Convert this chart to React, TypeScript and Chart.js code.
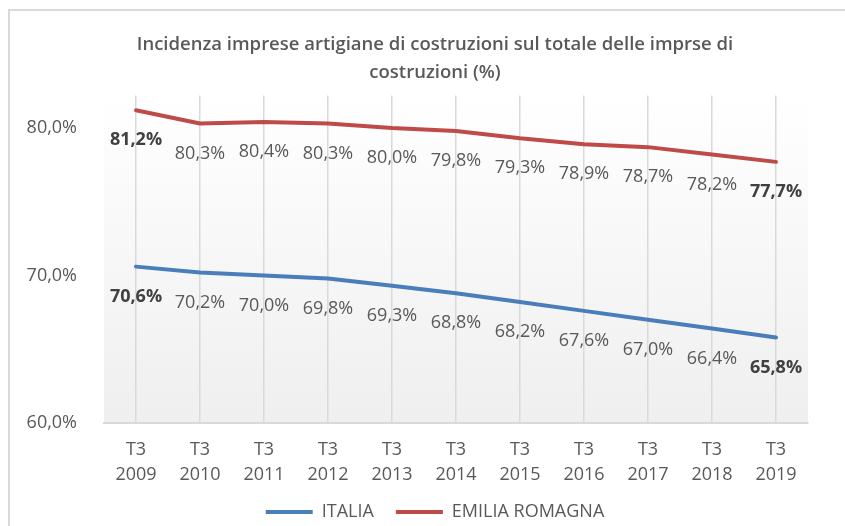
import React, { useEffect, useRef } from "react";
import { Chart, registerables } from "chart.js";

Chart.register(...registerables);

const categories = [
  ["T3", "2009"], ["T3", "2010"], ["T3", "2011"], ["T3", "2012"], ["T3", "2013"],
  ["T3", "2014"], ["T3", "2015"], ["T3", "2016"], ["T3", "2017"], ["T3", "2018"], ["T3", "2019"],
];
const italia = [70.6, 70.2, 70.0, 69.8, 69.3, 68.8, 68.2, 67.6, 67.0, 66.4, 65.8];
const emilia = [81.2, 80.3, 80.4, 80.3, 80.0, 79.8, 79.3, 78.9, 78.7, 78.2, 77.7];
const yTicks = [60, 70, 80];
const titleLines = [
  "Incidenza imprese artigiane di costruzioni sul totale delle imprse di",
  "costruzioni (%)",
];

const FONT = "'Open Sans', 'DejaVu Sans', sans-serif";
const fmt = (v: number) => v.toFixed(1).replace(".", ",") + "%";

const framePlugin = {
  id: "frame",
  beforeDraw(chart: any) {
    const { ctx, chartArea } = chart;
    ctx.save();
    ctx.fillStyle = "#ffffff";
    ctx.fillRect(0, 0, chart.width, chart.height);
    ctx.strokeStyle = "#d9d9d9";
    ctx.lineWidth = 2;
    ctx.beginPath();
    ctx.moveTo(9, chart.height);
    ctx.lineTo(9, 10);
    ctx.lineTo(chart.width, 10);
    ctx.stroke();
    const g = ctx.createLinearGradient(0, chartArea.top, 0, chartArea.bottom);
    g.addColorStop(0, "#ffffff");
    g.addColorStop(1, "#efefef");
    ctx.fillStyle = g;
    ctx.fillRect(chartArea.left, chartArea.top, chartArea.right - chartArea.left, chartArea.bottom - chartArea.top);
    ctx.restore();
  },
};

const labelPlugin = {
  id: "pointLabels",
  afterDatasetsDraw(chart: any) {
    const { ctx } = chart;
    ctx.save();
    ctx.textAlign = "center";
    ctx.textBaseline = "middle";
    chart.data.datasets.forEach((ds: any, di: number) => {
      const meta = chart.getDatasetMeta(di);
      const n = ds.data.length;
      meta.data.forEach((pt: any, i: number) => {
        const bold = i === 0 || i === n - 1;
        ctx.font = `${bold ? "bold " : ""}18px ${FONT}`;
        ctx.fillStyle = bold ? "#404040" : "#595959";
        ctx.fillText(fmt(ds.data[i]), pt.x, pt.y + 30);
      });
    });
    ctx.restore();
  },
};

export default function App() {
  const ref = useRef<HTMLCanvasElement | null>(null);
  useEffect(() => {
    document.body.style.margin = "0";
    const chart = new Chart(ref.current as HTMLCanvasElement, {
      type: "line",
      data: {
        labels: categories,
        datasets: [
          {
            label: "ITALIA",
            data: italia,
            borderColor: "#4a7ebb",
            backgroundColor: "#4a7ebb",
            borderWidth: 4,
            pointRadius: 0,
            tension: 0,
            borderCapStyle: "round",
            borderJoinStyle: "round",
          },
          {
            label: "EMILIA ROMAGNA",
            data: emilia,
            borderColor: "#be4b48",
            backgroundColor: "#be4b48",
            borderWidth: 4,
            pointRadius: 0,
            tension: 0,
            borderCapStyle: "round",
            borderJoinStyle: "round",
          },
        ],
      },
      options: {
        animation: false,
        responsive: false,
        layout: { padding: { left: 25, right: 0, top: 0, bottom: -5 } },
        scales: {
          x: {
            offset: true,
            grid: { display: true, color: "#d9d9d9", lineWidth: 1.5, drawTicks: false, offset: false },
            border: { display: true, color: "#d9d9d9", width: 2 },
            ticks: {
              color: "#595959",
              font: { family: FONT, size: 18, lineHeight: 1.4 },
              padding: 14,
              maxRotation: 0,
              autoSkip: false,
            },
            afterFit(scale: any) {
              scale.height = 58;
            },
          },
          y: {
            min: 60,
            max: 82.2,
            grid: { display: false },
            border: { display: false },
            ticks: {
              color: "#595959",
              font: { family: FONT, size: 18 },
              padding: 19,
              callback: (v: any) => fmt(Number(v)),
            },
            afterBuildTicks(scale: any) {
              scale.ticks = yTicks.map((v) => ({ value: v }));
            },
            afterFit(scale: any) {
              scale.width = 79;
            },
          },
          yRight: {
            position: "right",
            display: true,
            min: 60,
            max: 82.2,
            grid: { display: false },
            border: { display: false },
            ticks: { display: false },
            afterFit(scale: any) {
              scale.width = 37;
            },
          },
        },
        plugins: {
          title: {
            display: true,
            text: titleLines,
            color: "#595959",
            font: { family: FONT, size: 18.5, weight: "600", lineHeight: 1.5 },
            padding: { top: 31, bottom: 9 },
          },
          legend: {
            display: true,
            position: "bottom",
            labels: {
              color: "#595959",
              font: { family: FONT, size: 18, lineHeight: 1 },
              usePointStyle: true,
              pointStyle: "line",
              pointStyleWidth: 47,
              padding: 22,
            },
          },
          tooltip: { enabled: false },
        },
      } as any,
      plugins: [framePlugin, labelPlugin],
    });
    return () => chart.destroy();
  }, []);
  return <canvas ref={ref} width={845} height={526} style={{ display: "block" }} />;
}
